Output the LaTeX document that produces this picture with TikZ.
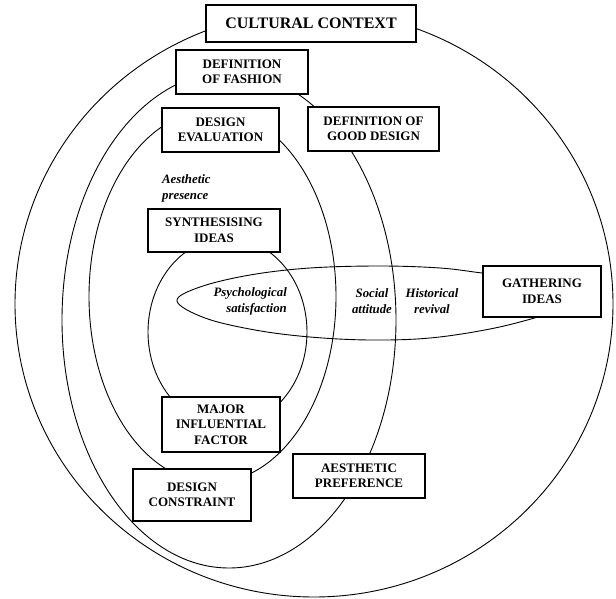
\documentclass[tikz,border=0pt]{standalone}
\usepackage{fontspec}
\setmainfont{Liberation Serif}
\begin{document}
\begin{tikzpicture}[x=1pt,y=-1pt,
  ring/.style={draw, line width=0.9pt},
  box/.style={draw, line width=1.1pt, fill=white, align=center, inner sep=0pt,
    font=\fontsize{13}{15.5}\selectfont\bfseries},
  lbl/.style={inner sep=0pt, font=\fontsize{12.8}{16}\selectfont\bfseries\itshape}]
\useasboundingbox (0,0) rectangle (616,599);
% rings
\draw[ring] (314,304) ellipse [x radius=299pt, y radius=293pt];
\draw[ring] (229,320) ellipse [x radius=167pt, y radius=248pt];
\draw[ring] (212.5,296.5) ellipse [x radius=123.5pt, y radius=186pt];
\draw[ring] (227.5,332) ellipse [x radius=79.5pt, y radius=94pt];
\draw[ring] plot[smooth cycle, tension=0.6] coordinates {
  (177,301) (200,287) (250,275) (310,268) (380,266) (440,268) (482,273)
  (540,280) (585,290) (575,305) (538,317) (490,329) (430,338) (370,340)
  (310,337) (255,330) (205,318)};
% boxes
\node[box, minimum width=210pt, minimum height=37pt, font=\fontsize{16}{18}\selectfont\bfseries] (cc) at (311,23.5) {CULTURAL CONTEXT};
\node[box, minimum width=132pt, minimum height=44pt] (df) at (242,72) {DEFINITION\\OF FASHION};
\node[box, minimum width=117pt, minimum height=44pt] (de) at (220.5,130) {DESIGN\\EVALUATION};
\node[box, minimum width=131pt, minimum height=44pt] (dgd) at (373.5,129) {DEFINITION OF\\GOOD DESIGN};
\node[box, minimum width=132pt, minimum height=43pt] (si) at (214,230.5) {SYNTHESISING\\IDEAS};
\node[box, minimum width=118pt, minimum height=51pt] (gi) at (542,291.5) {GATHERING\\IDEAS};
\node[box, minimum width=118pt, minimum height=55pt] (mif) at (221,424.5) {MAJOR\\INFLUENTIAL\\FACTOR};
\node[box, minimum width=118pt, minimum height=52pt] (dc) at (192,495) {DESIGN\\CONSTRAINT};
\node[box, minimum width=132pt, minimum height=44pt] (ap) at (359,476) {AESTHETIC\\PREFERENCE};
% labels
\node[lbl, anchor=west, align=left] (apr) at (162,188) {Aesthetic\\presence};
\node[lbl, anchor=east, align=right] (ps) at (287,301) {Psychological\\satisfaction};
\node[lbl, align=center] (sa) at (372,301) {Social\\attitude};
\node[lbl, align=center] (hr) at (432,301) {Historical\\revival};
\end{tikzpicture}
\end{document}
